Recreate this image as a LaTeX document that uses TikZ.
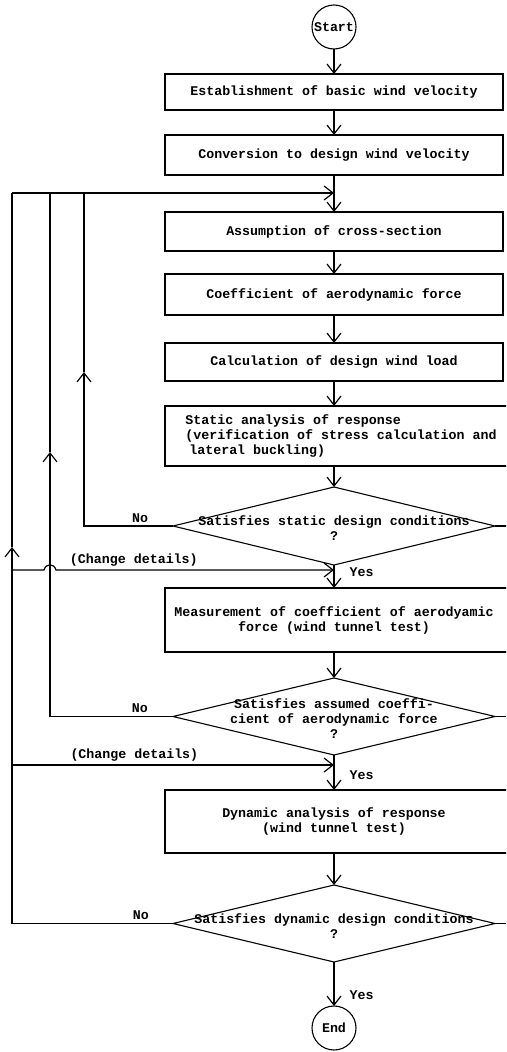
\documentclass[tikz,border=0pt]{standalone}
\usepackage{fontspec}
\setmonofont{Liberation Mono}
\usetikzlibrary{positioning,shapes.geometric,arrows.meta}

\newcommand{\condtext}[1]{\makebox[0pt]{\raisebox{-4pt}[\height][\depth]{\begin{tabular}{@{}c@{}}#1\end{tabular}}}}

\begin{document}
\begin{tikzpicture}[x=1pt, y=-1pt,
    txt/.style={font=\ttfamily\bfseries\fontsize{13.3}{15}\selectfont},
    box/.style={txt, draw, line width=1.1pt, rectangle, minimum width=338pt, inner sep=0pt, outer sep=0pt, align=center},
    openbox/.style={txt, rectangle, minimum width=338pt, inner sep=0pt, outer sep=0pt, align=center},
    cond/.style={txt, draw, line width=1.1pt, diamond, inner sep=0pt, outer sep=0pt, minimum width=322pt},
    term/.style={txt, draw, line width=1.1pt, circle, inner sep=0pt, outer sep=0pt},
    flow/.style={line width=1.2pt, -{Straight Barb[length=9pt,width=14pt]}},
    link/.style={line width=1.2pt},
    lab/.style={txt, inner sep=3pt}]

  \useasboundingbox (0,0) rectangle (506,1052);
  \clip (0,0) rectangle (506,1052);

  \node[term, minimum size=44pt] (start) at (334,27) {Start};
  \node[box, minimum height=36pt, below=25pt of start] (b1) {Establishment of basic wind velocity};
  \node[box, minimum height=40pt, below=25pt of b1] (b2) {Conversion to design wind velocity};
  \node[box, minimum height=39pt, below=37pt of b2] (b3) {Assumption of cross-section};
  \node[box, minimum height=41pt, below=23pt of b3] (b4) {Coefficient of aerodynamic force};
  \node[box, minimum height=38pt, below=28pt of b4] (b5) {Calculation of design wind load};
  \node[openbox, align=left, minimum height=60pt, below=25pt of b5, xshift=7pt] (b6)
    {Static analysis of response\\(verification of stress calculation and\\\hspace*{4pt}lateral buckling)};
  \node[cond, minimum height=78pt, below=21pt of b6, xshift=-7pt] (d1)
    {\condtext{Satisfies static design conditions\\?}};
  \node[openbox, minimum height=64pt, below=23pt of d1] (b7)
    {Measurement of coefficient of aerodyamic\\force (wind tunnel test)};
  \node[cond, minimum height=77pt, below=26pt of b7] (d2)
    {\condtext{Satisfies assumed coeffi-\\cient of aerodynamic force\\?}};
  \node[openbox, minimum height=63pt, below=35pt of d2] (b8)
    {Dynamic analysis of response\\(wind tunnel test)};
  \node[cond, minimum height=77pt, below=32pt of b8] (d3)
    {\condtext{Satisfies dynamic design conditions\\?}};
  \node[term, minimum size=44pt, below=44pt of d3] (end) {End};

  \coordinate (edge) at (530,0);
  \coordinate (join) at (334,193);
  \coordinate (r1) at (84,193);
  \coordinate (r2) at (50,193);
  \coordinate (r3) at (12,193);
  \coordinate (u1) at (84,372);
  \coordinate (u2) at (50,452);
  \coordinate (u3) at (12,547);
  \coordinate (c1) at (12,570);
  \coordinate (c2) at (12,765);

  \foreach \b in {b6,b7,b8}
    \draw[link] (\b.north -| edge) -- (\b.north -| b1.west) -- (\b.south -| b1.west) -- (\b.south -| edge);

  \draw[flow] (start) -- (b1);
  \draw[flow] (b1) -- (b2);
  \draw[flow] (b2) -- (b3);
  \draw[flow] (b3) -- (b4);
  \draw[flow] (b4) -- (b5);
  \draw[flow] (b5) -- (b5 |- b6.north);
  \draw[flow] (b5 |- b6.south) -- (d1);
  \draw[flow] (d1) -- node[lab, right=12pt, pos=.3] {Yes} (b7);
  \draw[flow] (b7) -- (d2);
  \draw[flow] (d2) -- node[lab, right=12pt, pos=.57] {Yes} (b8);
  \draw[flow] (b8) -- (d3);
  \draw[flow] (d3) -- node[lab, right=12pt, pos=.75] {Yes} (end);

  \draw[flow] (r3) -- (join);
  \draw[flow] (d1.west) -- node[lab, above, pos=.37] {No} (d1.west -| r1) -- (u1);
  \draw[link] (u1) -- (r1);
  \draw[flow] (d2.west) -- node[lab, above, pos=.27] {No} (d2.west -| r2) -- (u2);
  \draw[link] (u2) -- (r2);
  \draw[flow] (d3.west) -- node[lab, above, pos=.2] {No} (d3.west -| r3) -- (u3);
  \draw[link] (u3) -- (r3);

  \draw[flow] (c1) -- (44,570) .. controls (46,563) and (54,563) .. (56,570)
    -- node[lab, above, pos=.28] {(Change details)} (c1 -| d1);
  \draw[flow] (c2) -- node[lab, above, pos=.38] {(Change details)} (c2 -| d2);

  \draw[link] (d1.east) -- (d1.east -| edge);
  \draw[link] (d2.east) -- (d2.east -| edge);
  \draw[link] (d3.east) -- (d3.east -| edge);
\end{tikzpicture}
\end{document}
